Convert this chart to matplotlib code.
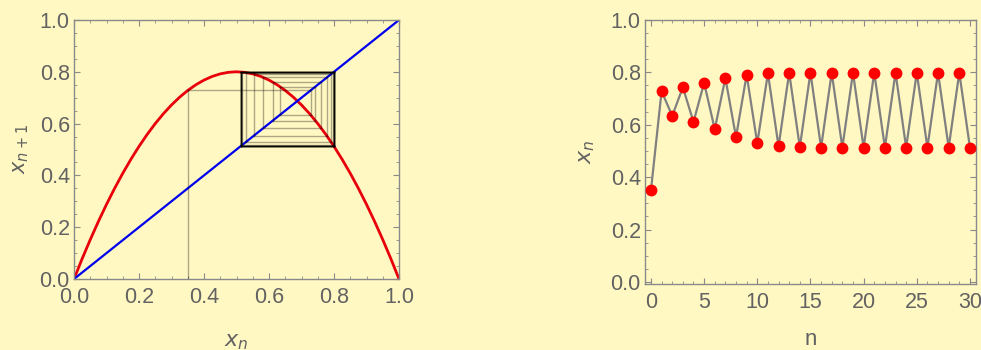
"""
Logistic map r=3.2: cobweb diagram and time series x_n vs n.
"""
import numpy as np
import matplotlib.pyplot as plt
from matplotlib.ticker import MultipleLocator

# iterates x_n (n = 0..30)
n_vals = list(range(31))
x_vals = [0.350, 0.728, 0.634, 0.743, 0.611, 0.760, 0.583, 0.778, 0.553, 0.791,
          0.529, 0.797, 0.517, 0.799, 0.514, 0.799, 0.513, 0.799, 0.513, 0.799,
          0.513, 0.799, 0.513, 0.799, 0.513, 0.799, 0.513, 0.799, 0.513, 0.799,
          0.513]

# map curve f(x), sampled from the left panel
curve_x = [0.0, 0.025, 0.05, 0.075, 0.1, 0.125, 0.15, 0.175, 0.2, 0.225,
           0.25, 0.275, 0.3, 0.325, 0.35, 0.375, 0.4, 0.425, 0.45, 0.475,
           0.5, 0.525, 0.55, 0.575, 0.6, 0.625, 0.65, 0.675, 0.7, 0.725,
           0.75, 0.775, 0.8, 0.825, 0.85, 0.875, 0.9, 0.925, 0.95, 0.975, 1.0]
curve_y = [0.0, 0.078, 0.152, 0.222, 0.288, 0.350, 0.408, 0.462, 0.512, 0.558,
           0.600, 0.638, 0.672, 0.702, 0.728, 0.750, 0.768, 0.782, 0.792, 0.798,
           0.800, 0.798, 0.792, 0.782, 0.768, 0.750, 0.728, 0.702, 0.672, 0.638,
           0.600, 0.558, 0.512, 0.462, 0.408, 0.350, 0.288, 0.222, 0.152, 0.078,
           0.0]
diag = [0.0, 1.0]

BG = "#FFF8C2"
GREY = "#626262"
plt.rcParams["font.family"] = ["Liberation Sans", "DejaVu Sans"]
plt.rcParams["mathtext.fontset"] = "dejavusans"

fig = plt.figure(figsize=(9.81, 3.5), dpi=100, facecolor=BG)
W, H = 981, 350


def style(ax):
    ax.set_facecolor(BG)
    for s in ax.spines.values():
        s.set_color("#8a8a8a")
        s.set_linewidth(1.0)
    ax.tick_params(which="both", direction="in", top=True, right=True,
                   colors="#8a8a8a", labelcolor=GREY, labelsize=15.5)
    ax.tick_params(which="major", length=4, width=0.8)
    ax.tick_params(which="minor", length=2, width=0.6)
    ax.tick_params(axis="x", which="major", pad=6)
    ax.tick_params(axis="y", which="major", pad=3)


# left: cobweb
ax1 = fig.add_axes([74 / W, (H - 279) / H, 325 / W, 259 / H])
style(ax1)
ax1.plot(curve_x, curve_y, color="#e8000b", lw=2)
ax1.plot(diag, diag, color="#0000ee", lw=1.6)
web_x = [x_vals[0]]
web_y = [0.0]
for i in range(len(x_vals) - 1):
    web_x += [x_vals[i], x_vals[i + 1]]
    web_y += [x_vals[i + 1], x_vals[i + 1]]
for i in range(len(web_x) - 1):
    ax1.plot(web_x[i:i + 2], web_y[i:i + 2], color="black", lw=1.0, alpha=0.32)
ax1.set_xlim(0, 1)
ax1.set_ylim(0, 1)
ax1.xaxis.set_major_locator(MultipleLocator(0.2))
ax1.yaxis.set_major_locator(MultipleLocator(0.2))
ax1.xaxis.set_minor_locator(MultipleLocator(0.05))
ax1.yaxis.set_minor_locator(MultipleLocator(0.05))
ax1.xaxis.set_major_formatter(lambda v, p: f"{v:.1f}")
ax1.yaxis.set_major_formatter(lambda v, p: f"{v:.1f}")
ax1.set_xlabel(r"$x_n$", color=GREY, fontsize=16, labelpad=16)
ax1.set_ylabel(r"$x_{n+1}$", color=GREY, fontsize=15, labelpad=6)

# right: time series
ax2 = fig.add_axes([645 / W, (H - 284) / H, 331 / W, 264 / H])
style(ax2)
ax2.plot(n_vals, x_vals, color="#808080", lw=1.6, zorder=2)
ax2.plot(n_vals, x_vals, "o", color="#ff0000", ms=8.5, mec="none", zorder=3)
ax2.set_xlim(-0.56, 30.57)
ax2.set_ylim(-0.008, 1.0)
ax2.xaxis.set_major_locator(MultipleLocator(5))
ax2.xaxis.set_minor_locator(MultipleLocator(1))
ax2.yaxis.set_major_locator(MultipleLocator(0.2))
ax2.yaxis.set_minor_locator(MultipleLocator(0.05))
ax2.yaxis.set_major_formatter(lambda v, p: f"{v:.1f}")
ax2.set_xlabel("n", color=GREY, fontsize=16, labelpad=11)
ax2.set_ylabel(r"$x_n$", color=GREY, fontsize=16, labelpad=10)

fig.savefig("out.png", dpi=100, facecolor=BG)
